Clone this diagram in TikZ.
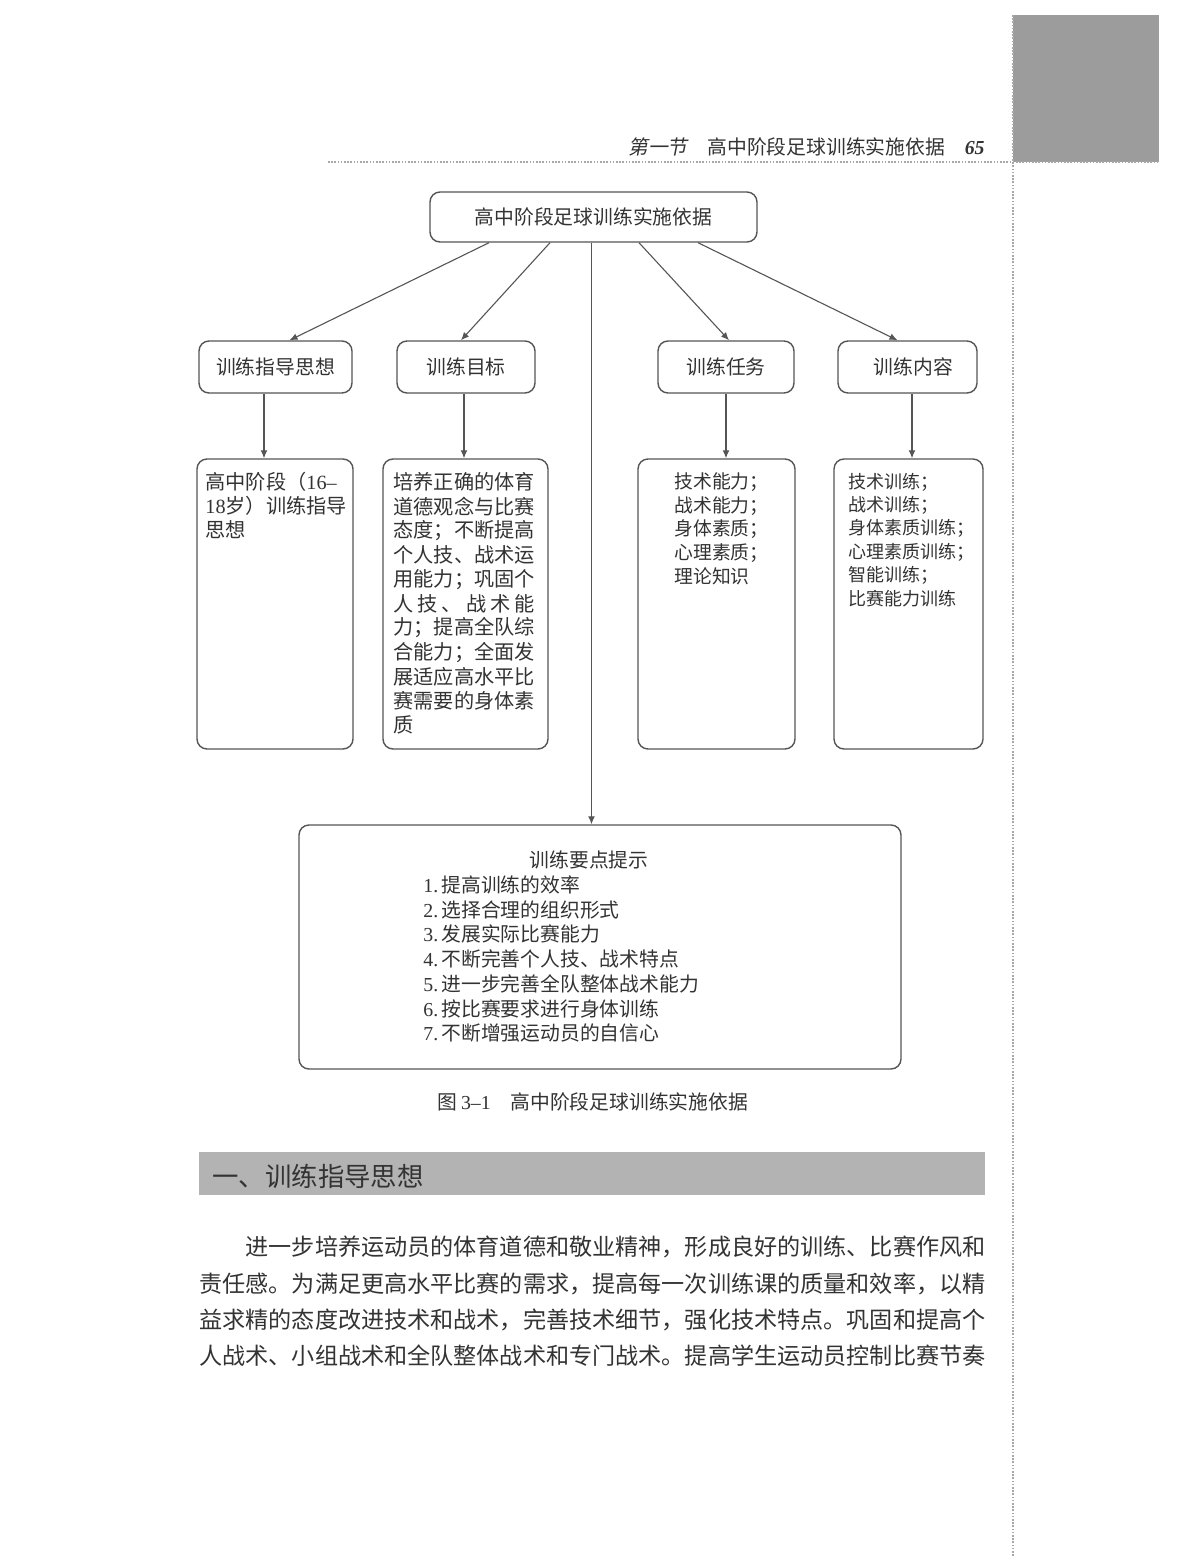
\documentclass[tikz,border=0pt]{standalone}
\usepackage{fontspec}
\setmainfont{Liberation Serif}
\newfontfamily\cjk{Noto Sans CJK SC}
\newfontfamily\cjkit[FakeSlant=0.2]{Noto Sans CJK SC}
\usetikzlibrary{arrows.meta,fit}
\definecolor{ink}{HTML}{333333}
\definecolor{frame}{HTML}{555555}
\definecolor{tabgray}{HTML}{9C9C9C}
\definecolor{bargray}{HTML}{B3B3B3}
\definecolor{dotgray}{HTML}{A8A8A8}
\begin{document}
\begin{tikzpicture}[x=0.5pt,y=-0.5pt,
  box/.style={draw=frame, line width=0.7pt, rounded corners=5pt, inner sep=0pt, fill=white},
  conn/.style={draw=frame, line width=0.55pt, -{Latex[length=4pt,width=3.4pt]}},
  dotline/.style={draw=dotgray, line width=0.8pt, dash pattern=on 0.8pt off 0.8pt},
  txt/.style={inner sep=0pt, text=ink, font=\cjk\fontsize{9.9pt}{12pt}\selectfont},
  btxt/.style={inner sep=0pt, text=ink, anchor=west, font=\cjk\fontsize{10.1pt}{12pt}\selectfont},
  ctxt/.style={inner sep=0pt, text=ink, anchor=west, font=\cjk\fontsize{9.4pt}{12pt}\selectfont},
  dtxt/.style={inner sep=0pt, text=ink, anchor=west, font=\cjk\fontsize{9.0pt}{12pt}\selectfont},
  ptxt/.style={inner sep=0pt, text=ink, anchor=west, font=\cjk\fontsize{11.56pt}{14pt}\selectfont},
]
\useasboundingbox (0,0) rectangle (1191,1557);
\fill[white] (0,0) rectangle (1191,1557);

% page decoration
\fill[tabgray] (1013,15) rectangle (1159,162);
\draw[dotline] (328,162) -- (1159,162);
\draw[dotline] (1013,15) -- (1013,1557);

% running head
\node[txt, anchor=east, font=\cjk\fontsize{9.9pt}{12pt}\selectfont] (head) at (985,147)
  {{\cjkit 第一节}\hspace{1em}高中阶段足球训练实施依据\hspace{1em}{\rmfamily\bfseries\itshape 65}};

% diagram boxes
\node[box, fit={(430,192) (757,242)}] (top) {};
\node[txt] at (top) {高中阶段足球训练实施依据};

\node[box, fit={(199,341) (352,393)}] (g1) {};
\node[box, fit={(397,341) (535,393)}] (g2) {};
\node[box, fit={(658,341) (794,393)}] (g3) {};
\node[box, fit={(838,341) (977,393)}] (g4) {};
\node[txt] at (g1) {训练指导思想};
\node[txt] at (g2) {训练目标};
\node[txt] at (g3) {训练任务};
\node[txt] at ([xshift=3pt]g4.center) {训练内容};

\node[box, fit={(197,459) (353,749)}] (d1) {};
\node[box, fit={(383,459) (548,749)}] (d2) {};
\node[box, fit={(638,459) (795,749)}] (d3) {};
\node[box, fit={(834,459) (983,749)}] (d4) {};

\node[box, fit={(299,825) (901,1069)}] (tips) {};

% texts of detail boxes
\node[btxt] at (205,482) {高中阶段（{\rmfamily 16–}};
\node[btxt] at (205,506) {{\rmfamily 18}岁）训练指导};
\node[btxt] at (205,530) {思想};

\foreach \t [count=\i from 0] in {培养正确的体育,道德观念与比赛,态度；不断提高,个人技、战术运,用能力；巩固个,
  {\makebox[7em][s]{人\hfill 技\hfill 、\hfill 战\hfill 术\hfill 能}},
  力；提高全队综,合能力；全面发,展适应高水平比,赛需要的身体素,质}
  \node[btxt] at (393,482+24.3*\i) {\t};

\foreach \t [count=\i from 0] in {技术能力；,战术能力；,身体素质；,心理素质；,理论知识}
  \node[ctxt] at (674,482+23.7*\i) {\t};

\foreach \t [count=\i from 0] in {技术训练；,战术训练；,身体素质训练；,心理素质训练；,智能训练；,比赛能力训练}
  \node[dtxt] at (848,482+23.4*\i) {\t};

\node[txt] at (589,860) {训练要点提示};
\foreach \n/\t [count=\i from 0] in {1/提高训练的效率,2/选择合理的组织形式,3/发展实际比赛能力,
  4/不断完善个人技、战术特点,5/进一步完善全队整体战术能力,6/按比赛要求进行身体训练,7/不断增强运动员的自信心}
  \node[btxt, font=\cjk\fontsize{9.9pt}{12pt}\selectfont] at (423,885+24.7*\i) {{\rmfamily\n.}\,\t};

% connectors
\draw[conn] ([xshift=-52.25pt]top.south) -- ([xshift=7pt]g1.north);
\draw[conn] ([xshift=-21.75pt]top.south) -- ([xshift=-2.5pt]g2.north);
\draw[conn] ([xshift=22.75pt]top.south) -- ([xshift=1.5pt]g3.north);
\draw[conn] ([xshift=52.25pt]top.south) -- ([xshift=-5pt]g4.north);
\draw[conn] ([xshift=-1pt]top.south) -- ([xshift=-1pt]top.south |- tips.north);

\draw[conn] ([xshift=-5.75pt]g1.south) -- ([xshift=-5.75pt]g1.south |- d1.north);
\draw[conn] ([xshift=-1pt]g2.south) -- ([xshift=-1pt]g2.south |- d2.north);
\draw[conn] ([xshift=0pt]g3.south) -- ([xshift=0pt]g3.south |- d3.north);
\draw[conn] ([xshift=2.25pt]g4.south) -- ([xshift=2.25pt]g4.south |- d4.north);

% caption
\node[txt] (cap) at (593,1102) {图\,{\rmfamily 3–1}\hspace{1em}高中阶段足球训练实施依据};

% section heading
\node[fill=bargray, inner sep=0pt, fit={(199,1152) (985,1195)}] (sec) {};
\node[inner sep=0pt, anchor=west, text=ink, font=\cjk\fontsize{13.2pt}{15pt}\selectfont] at (212,1176) {一、训练指导思想};

% body text
\node[ptxt] (p1) at (199,1247) {\hspace{2em}进一步培养运动员的体育道德和敬业精神，形成良好的训练、比赛作风和};
\node[ptxt] (p2) at (199,1284) {责任感。为满足更高水平比赛的需求，提高每一次训练课的质量和效率，以精};
\node[ptxt] (p3) at (199,1320) {益求精的态度改进技术和战术，完善技术细节，强化技术特点。巩固和提高个};
\node[ptxt] (p4) at (199,1356) {人战术、小组战术和全队整体战术和专门战术。提高学生运动员控制比赛节奏};
\end{tikzpicture}
\end{document}
